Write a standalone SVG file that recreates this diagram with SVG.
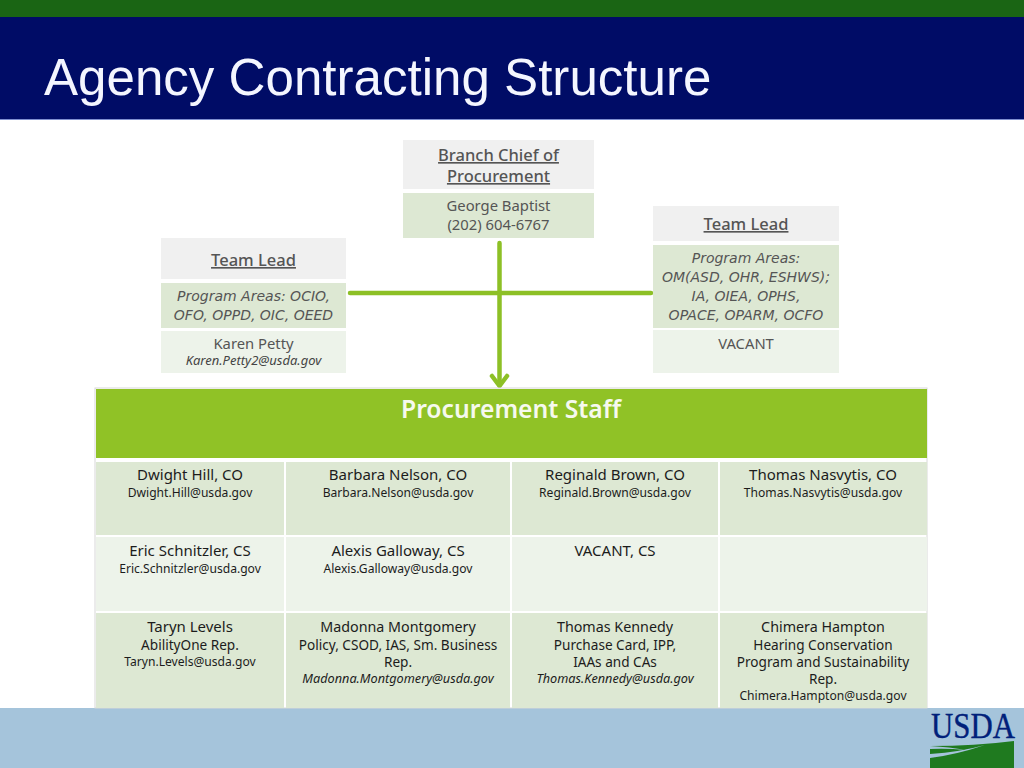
<svg xmlns="http://www.w3.org/2000/svg" width="1024" height="768" viewBox="0 0 1024 768">
<style>
text{font-family:"Noto Sans","DejaVu Sans",sans-serif;text-anchor:middle;fill:#1c1c1c}
.title{font-family:"Liberation Sans",Arial,sans-serif;font-size:51.100px;fill:#f4f6ff;text-anchor:start}
.h{font-size:16.500px;font-weight:500;fill:#555;text-decoration:underline}
.g{font-size:14.800px;fill:#555}
.i{font-family:"DejaVu Sans","Noto Sans",sans-serif;font-size:14px;font-style:italic;fill:#555}
.e{font-size:13px;font-style:italic;fill:#444}
.n{font-size:15px}
.nn{font-size:14.300px}
.s{font-size:12.100px}
.m{font-size:13.600px}
.ei{font-size:12.700px;font-style:italic}
.l{fill:#f0f0f0}.d{fill:#dde8d3}.p{fill:#edf3ea}
.c{fill:none;stroke:#8dc026;stroke-width:4.500;stroke-linecap:round;stroke-linejoin:round}
</style>
<rect width="1024" height="768" fill="#fff"/>
<g id="header">
<rect width="1024" height="17" fill="#1a6514"/>
<rect y="17" width="1024" height="102" fill="#000c66"/>
<rect y="119" width="1024" height="1" fill="#7f8fd0"/>
<text class="title" x="44" y="95">Agency Contracting Structure</text>
</g>
<rect id="footer" y="708" width="1024" height="60" fill="#a5c4db"/>
<g id="connectors">
<path class="c" d="M350 293H651M499.500 243V385"/>
<path class="c" d="M492 376L499.500 386L507 376"/>
</g>
<g id="branch-chief">
<rect class="l" x="403" y="140" width="191" height="49"/>
<rect class="d" x="403" y="193" width="191" height="45"/>
<text class="h" x="498.500" y="161">Branch Chief of</text>
<text class="h" x="498.500" y="182">Procurement</text>
<text class="g" x="498.500" y="211">George Baptist</text>
<text class="g" x="498.500" y="230">(202) 604-6767</text>
</g>
<g id="team-lead-left">
<rect class="l" x="161" y="238" width="185" height="41"/>
<rect class="d" x="161" y="283" width="185" height="45"/>
<rect class="p" x="161" y="331" width="185" height="42"/>
<text class="h" x="253.500" y="266">Team Lead</text>
<text class="i" x="253.500" y="301">Program Areas: OCIO,</text>
<text class="i" x="253.500" y="320">OFO, OPPD, OIC, OEED</text>
<text class="g" x="253.500" y="349">Karen Petty</text>
<text class="e" x="253.500" y="365">Karen.Petty2@usda.gov</text>
</g>
<g id="team-lead-right">
<rect class="l" x="653" y="206" width="186" height="35"/>
<rect class="d" x="653" y="245" width="186" height="83"/>
<rect class="p" x="653" y="330" width="186" height="43"/>
<text class="h" x="746" y="230">Team Lead</text>
<text class="i" x="746" y="263">Program Areas:</text>
<text class="i" x="746" y="282">OM(ASD, OHR, ESHWS);</text>
<text class="i" x="746" y="301">IA, OIEA, OPHS,</text>
<text class="i" x="746" y="320">OPACE, OPARM, OCFO</text>
<text class="g" x="746" y="349">VACANT</text>
</g>
<g id="procurement-staff">
<rect x="95" y="388" width="832" height="320" fill="#fff" stroke="#d8d8d8"/>
<rect x="96" y="389" width="831" height="69" fill="#90c226"/>
<text x="511" y="418" font-size="24.700" font-weight="600" style="fill:#f6f9ee">Procurement Staff</text>
<g id="cells">
<rect class="d" x="96" y="462" width="188" height="73"/><rect class="d" x="286" y="462" width="224" height="73"/><rect class="d" x="512" y="462" width="206" height="73"/><rect class="d" x="720" y="462" width="207" height="73"/>
<rect class="p" x="96" y="537" width="188" height="74"/><rect class="p" x="286" y="537" width="224" height="74"/><rect class="p" x="512" y="537" width="206" height="74"/><rect class="p" x="720" y="537" width="207" height="74"/>
<rect class="d" x="96" y="613" width="188" height="95"/><rect class="d" x="286" y="613" width="224" height="95"/><rect class="d" x="512" y="613" width="206" height="95"/><rect class="d" x="720" y="613" width="207" height="95"/>
</g>
</g>
<g id="staff-hill"><text class="n" x="190" y="480">Dwight Hill, CO</text><text class="s" x="190" y="497">Dwight.Hill@usda.gov</text></g>
<g id="staff-nelson"><text class="n" x="398" y="480">Barbara Nelson, CO</text><text class="s" x="398" y="497">Barbara.Nelson@usda.gov</text></g>
<g id="staff-brown"><text class="n" x="615" y="480">Reginald Brown, CO</text><text class="s" x="615" y="497">Reginald.Brown@usda.gov</text></g>
<g id="staff-nasvytis"><text class="n" x="823" y="480">Thomas Nasvytis, CO</text><text class="s" x="823" y="497">Thomas.Nasvytis@usda.gov</text></g>
<g id="staff-schnitzler"><text class="n" x="190" y="556">Eric Schnitzler, CS</text><text class="s" x="190" y="573">Eric.Schnitzler@usda.gov</text></g>
<g id="staff-galloway"><text class="n" x="398" y="556">Alexis Galloway, CS</text><text class="s" x="398" y="573">Alexis.Galloway@usda.gov</text></g>
<g id="staff-vacant"><text class="n" x="615" y="556">VACANT, CS</text></g>
<g id="staff-levels"><text class="n" x="190" y="632">Taryn Levels</text><text class="m" x="190" y="650">AbilityOne Rep.</text><text class="s" x="190" y="666">Taryn.Levels@usda.gov</text></g>
<g id="staff-montgomery"><text class="nn" x="398" y="632">Madonna Montgomery</text><text class="m" x="398" y="650">Policy, CSOD, IAS, Sm. Business</text><text class="m" x="398" y="667">Rep.</text><text class="ei" x="398" y="683">Madonna.Montgomery@usda.gov</text></g>
<g id="staff-kennedy"><text class="nn" x="615" y="632">Thomas Kennedy</text><text class="m" x="615" y="650">Purchase Card, IPP,</text><text class="m" x="615" y="667">IAAs and CAs</text><text class="ei" x="615" y="683">Thomas.Kennedy@usda.gov</text></g>
<g id="staff-hampton"><text class="nn" x="823" y="632">Chimera Hampton</text><text class="m" x="823" y="650">Hearing Conservation</text><text class="m" x="823" y="667">Program and Sustainability</text><text class="m" x="823" y="684">Rep.</text><text class="s" x="823" y="700">Chimera.Hampton@usda.gov</text></g>
<g id="logo">
<text transform="translate(973 738) scale(.88 1)" font-size="35" style="font-family:'Liberation Serif',serif;fill:#00207a;stroke:#00207a;stroke-width:.4">USDA</text>
<path d="M930 746Q975 746 1014 741V768H930Z" fill="#1f7a1f"/>
<path d="M930 746Q950 747 966 750Q946 748 930 749ZM930 754Q960 752 985 745Q955 755 930 758Z" fill="#a5c4db"/>
</g>
</svg>
